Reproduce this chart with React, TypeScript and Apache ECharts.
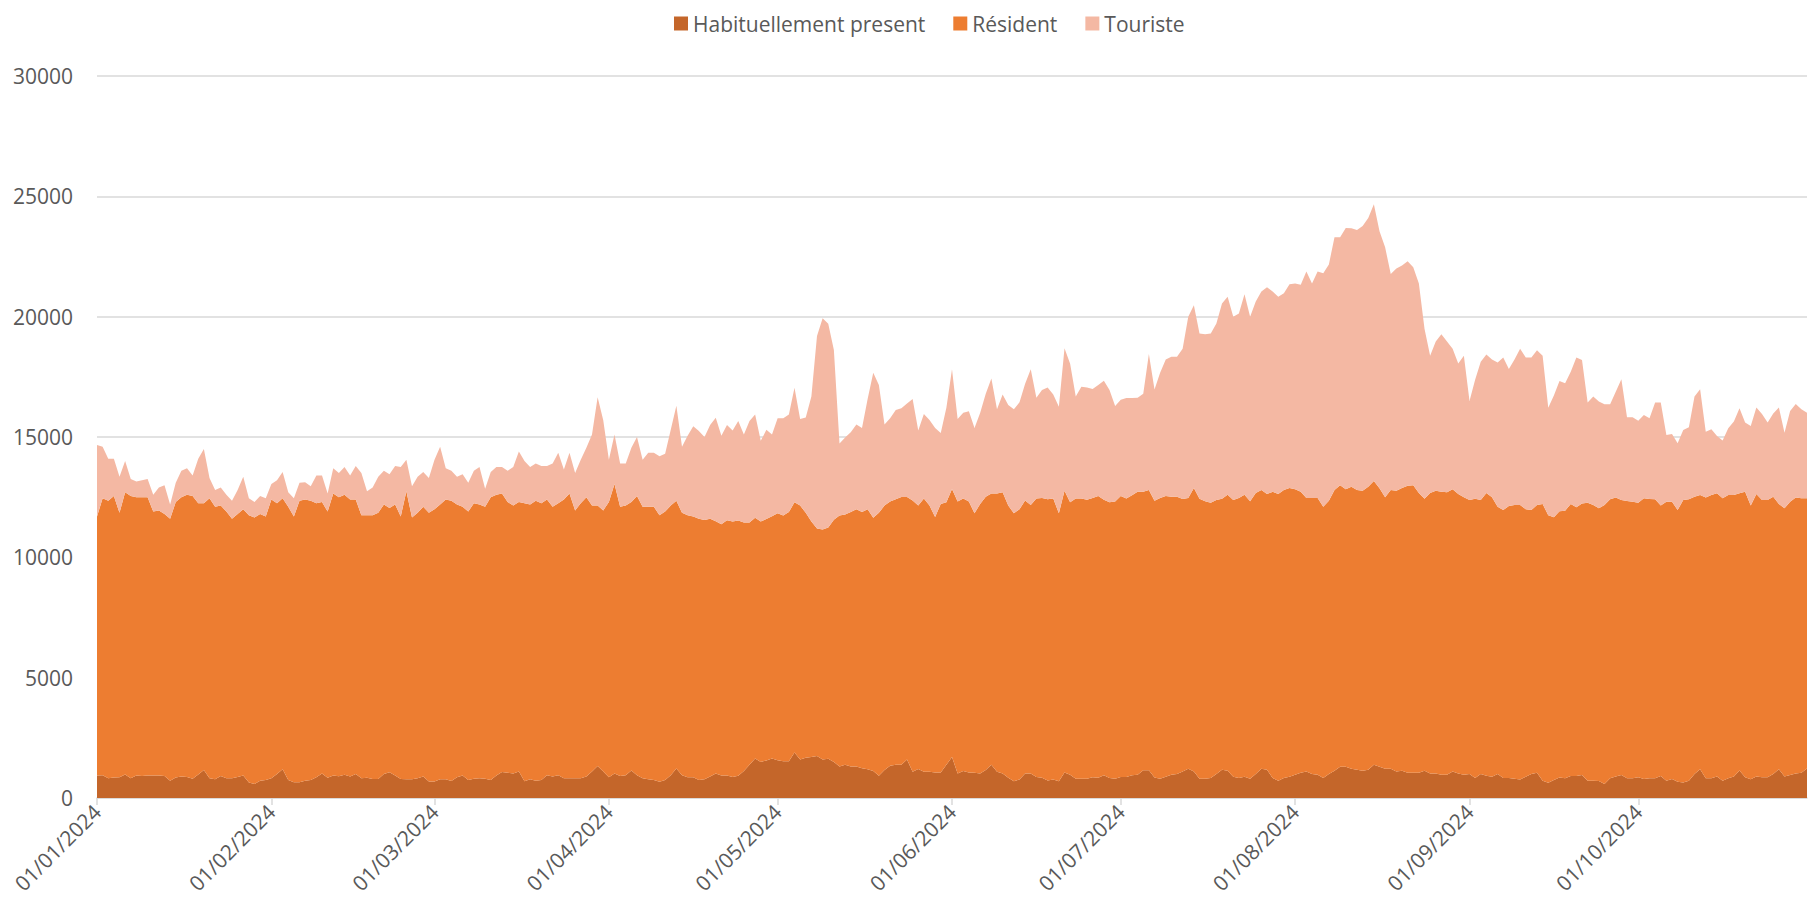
import React, { useEffect, useRef } from "react";
import * as echarts from "echarts";

const START = Date.UTC(2024, 0, 1);
const DAY_COUNT = 305;
const categories: string[] = [];
for (let i = 0; i < DAY_COUNT; i++) {
  const d = new Date(START + i * 86400000);
  const dd = String(d.getUTCDate()).padStart(2, "0");
  const mm = String(d.getUTCMonth() + 1).padStart(2, "0");
  categories.push(`${dd}/${mm}/${d.getUTCFullYear()}`);
}

const seriesNames = ["Habituellement present", "Résident", "Touriste"];
const yTicks = [0, 5000, 10000, 15000, 20000, 25000, 30000];

const habituellement = [
  930, 950, 820, 850, 860, 980, 820, 940, 910, 940,
  930, 940, 910, 720, 850, 890, 870, 800, 980, 1160,
  820, 780, 910, 820, 820, 870, 940, 640, 580, 720,
  750, 820, 1000, 1190, 750, 650, 650, 720, 750, 860,
  1020, 840, 930, 900, 970, 890, 1000, 820, 840, 790,
  790, 1000, 1070, 940, 790, 780, 780, 820, 890, 690,
  690, 780, 780, 710, 860, 940, 750, 800, 820, 800,
  750, 940, 1080, 1050, 1020, 1100, 700, 780, 720, 750,
  950, 890, 950, 820, 820, 820, 820, 890, 1100, 1330,
  1100, 860, 1020, 910, 950, 1140, 950, 820, 780, 750,
  680, 750, 950, 1230, 950, 860, 860, 750, 780, 890,
  1020, 930, 940, 870, 920, 1120, 1380, 1640, 1500, 1560,
  1640, 1570, 1530, 1530, 1890, 1600, 1670, 1700, 1750, 1600,
  1630, 1500, 1310, 1380, 1310, 1310, 1240, 1190, 1120, 920,
  1160, 1340, 1380, 1380, 1600, 1090, 1210, 1090, 1090, 1060,
  1060, 1380, 1700, 1020, 1120, 1060, 1050, 1020, 1160, 1380,
  1090, 1020, 840, 700, 770, 1020, 1020, 870, 840, 730,
  770, 700, 1060, 970, 800, 800, 800, 860, 840, 950,
  830, 800, 870, 870, 950, 970, 1150, 1150, 850, 800,
  880, 970, 1000, 1100, 1220, 1100, 800, 800, 830, 1000,
  1170, 1130, 880, 830, 880, 800, 1000, 1220, 1170, 830,
  720, 830, 880, 970, 1050, 1100, 1000, 970, 830, 1000,
  1130, 1300, 1300, 1220, 1170, 1130, 1170, 1380, 1300, 1220,
  1220, 1100, 1130, 1050, 1050, 1050, 1130, 1020, 1020, 970,
  970, 1100, 1020, 970, 1000, 830, 1000, 920, 880, 1000,
  830, 830, 800, 770, 880, 1000, 1050, 720, 630, 750,
  850, 820, 910, 910, 960, 720, 720, 710, 580, 820,
  890, 960, 820, 820, 860, 790, 820, 820, 910, 720,
  790, 680, 640, 720, 1000, 1190, 820, 820, 890, 720,
  820, 890, 1140, 860, 780, 890, 860, 860, 1000, 1190,
  890, 960, 1020, 1050, 1230,
];

const resident = [
  10770, 11500, 11530, 11700, 10990, 11720, 11730, 11560, 11590, 11560,
  10970, 11010, 10890, 10880, 11450, 11610, 11730, 11750, 11270, 11090,
  11630, 11320, 11240, 11080, 10780, 10930, 11060, 11110, 11070, 11080,
  10950, 11580, 11250, 11260, 11350, 11050, 11700, 11680, 11600, 11390,
  11280, 11060, 11720, 11600, 11630, 11510, 11400, 10930, 10910, 10960,
  11060, 11200, 10980, 11260, 10910, 11970, 10870, 11030, 11210, 11160,
  11310, 11420, 11620, 11640, 11340, 11160, 11150, 11450, 11380, 11300,
  11750, 11660, 11570, 11250, 11130, 11200, 11550, 11420, 11630, 11500,
  11450, 11210, 11300, 11580, 11830, 11130, 11430, 11610, 11050, 10820,
  10850, 11440, 12030, 11190, 11200, 11160, 11600, 11280, 11320, 11350,
  11070, 11150, 11200, 11120, 10900, 10890, 10840, 10850, 10770, 10710,
  10480, 10440, 10600, 10620, 10610, 10330, 10070, 10000, 9990, 10030,
  10070, 10260, 10210, 10350, 10400, 10550, 10180, 9790, 9450, 9560,
  9610, 10060, 10430, 10400, 10570, 10690, 10640, 10810, 10520, 10930,
  10990, 10980, 11030, 11130, 10910, 11270, 10940, 11350, 11060, 10620,
  11160, 10910, 11140, 11300, 11320, 11260, 10780, 11200, 11360, 11270,
  11560, 11680, 11310, 11130, 11230, 11340, 11150, 11570, 11630, 11680,
  11670, 11130, 11710, 11320, 11640, 11640, 11590, 11610, 11710, 11440,
  11460, 11520, 11680, 11570, 11630, 11760, 11580, 11650, 11500, 11670,
  11670, 11550, 11520, 11320, 11250, 11780, 11630, 11530, 11440, 11380,
  11260, 11470, 11500, 11640, 11720, 11530, 11670, 11580, 11460, 11890,
  11910, 11970, 12000, 11860, 11670, 11370, 11470, 11500, 11270, 11350,
  11670, 11700, 11530, 11710, 11630, 11640, 11760, 11790, 11570, 11280,
  11580, 11670, 11750, 11920, 11950, 11620, 11300, 11650, 11750, 11760,
  11730, 11730, 11610, 11530, 11380, 11600, 11380, 11750, 11620, 11100,
  11140, 11300, 11370, 11400, 11120, 10970, 11120, 11500, 11120, 10920,
  11070, 11120, 11310, 11170, 11280, 11550, 11450, 11330, 11590, 11590,
  11600, 11420, 11520, 11490, 11410, 11660, 11600, 11590, 11240, 11590,
  11520, 11290, 11740, 11690, 11520, 11400, 11670, 11770, 11770, 11730,
  11770, 11700, 11520, 11870, 11370, 11740, 11520, 11520, 11520, 11030,
  11150, 11350, 11470, 11400, 11220,
];

const touriste = [
  2970, 2150, 1750, 1550, 1500, 1300, 700, 650, 700, 750,
  700, 950, 1200, 600, 800, 1100, 1100, 850, 1850, 2250,
  850, 700, 750, 700, 750, 1000, 1350, 700, 650, 750,
  750, 650, 950, 1100, 600, 750, 750, 720, 600, 1150,
  1100, 750, 1050, 1000, 1150, 1000, 1400, 1750, 1000, 1150,
  1500, 1400, 1400, 1600, 2050, 1300, 1300, 1500, 1450, 1450,
  2050, 2400, 1300, 1250, 1150, 1350, 1200, 1350, 1550, 750,
  1050, 1150, 1100, 1300, 1600, 2100, 1750, 1550, 1550, 1550,
  1400, 1800, 2100, 1250, 1700, 1550, 1800, 2050, 2950, 4500,
  3750, 1750, 2050, 1800, 1750, 2250, 2450, 1950, 2250, 2250,
  2450, 2400, 3150, 3950, 2750, 3300, 3750, 3650, 3450, 3900,
  4300, 3680, 3960, 3780, 4140, 3650, 4220, 4290, 3350, 3710,
  3390, 3950, 4040, 4050, 4760, 3600, 3960, 5190, 8000, 8770,
  8470, 7060, 2990, 3200, 3320, 3520, 3490, 4580, 6030, 5310,
  3370, 3460, 3710, 3680, 3880, 4220, 3120, 3520, 3560, 3690,
  2950, 3930, 4980, 3430, 3570, 3750, 3540, 3780, 4280, 4780,
  3500, 4070, 4180, 4320, 4440, 4850, 5650, 4190, 4480, 4650,
  4330, 4430, 5920, 5750, 4240, 4650, 4670, 4520, 4610, 4950,
  4660, 3970, 4000, 4180, 4040, 3900, 4070, 5650, 4620, 5200,
  5670, 5810, 5810, 6250, 7530, 7590, 6870, 6940, 7030, 7340,
  8120, 8230, 7620, 7660, 8330, 7670, 7960, 8250, 8590, 8330,
  8200, 8170, 8470, 8550, 8610, 9410, 8910, 9410, 9700, 9820,
  10500, 10300, 10850, 10740, 10800, 11000, 11170, 11500, 10680, 10380,
  8970, 9230, 9250, 9330, 9050, 8710, 7070, 5710, 6200, 6540,
  6270, 5840, 5420, 5880, 4120, 4950, 5750, 5760, 5720, 6000,
  6330, 5700, 6050, 6500, 6300, 6330, 6430, 6160, 4470, 5050,
  5410, 5290, 5490, 6220, 5960, 4160, 4510, 4430, 4190, 3950,
  4390, 5020, 3480, 3510, 3410, 3460, 3360, 4020, 4280, 2770,
  2810, 2770, 2910, 2990, 4160, 4390, 2730, 2730, 2380, 2400,
  2770, 3050, 3530, 2870, 3310, 3600, 3580, 3220, 3460, 4010,
  3140, 3770, 3880, 3700, 3560,
];

const colors = ["#C4662A", "#ED7D31", "#F4B8A3"];
const FONT = "'Open Sans', 'Noto Sans', sans-serif";
const TEXT = "#595959";

export default function App() {
  const ref = useRef<HTMLDivElement>(null);
  useEffect(() => {
    if (!ref.current) return;
    const chart = echarts.init(ref.current, undefined, { renderer: "svg" });
    const isMonthStart = (_i: number, v: string) => v.slice(0, 2) === "01";
    const values = [habituellement, resident, touriste];
    chart.setOption({
      animation: false,
      color: colors,
      legend: {
        top: 8,
        left: 669,
        icon: "rect",
        itemWidth: 14,
        itemHeight: 14,
        itemGap: 28,
        data: seriesNames,
        textStyle: { color: TEXT, fontSize: 21, fontFamily: FONT },
      },
      grid: { left: 97, right: 2, top: 76, bottom: 125, containLabel: false },
      xAxis: {
        type: "category",
        data: categories,
        boundaryGap: false,
        axisLine: { show: true, lineStyle: { color: "#D9D9D9", width: 1.5 } },
        axisTick: { show: true, interval: isMonthStart, length: 7, lineStyle: { color: "#D9D9D9", width: 1.5 } },
        axisLabel: {
          interval: isMonthStart,
          rotate: 45,
          margin: 10,
          color: TEXT,
          fontSize: 21,
          fontFamily: FONT,
        },
        splitLine: { show: false },
      },
      yAxis: {
        type: "value",
        min: yTicks[0],
        max: yTicks[yTicks.length - 1],
        interval: 5000,
        axisLine: { show: false },
        axisTick: { show: false },
        axisLabel: {
          color: TEXT,
          fontSize: 21,
          fontFamily: FONT,
          margin: 24,
          formatter: (v: number) => String(v),
        },
        splitLine: { lineStyle: { color: "#D9D9D9", width: 1.5 } },
      },
      series: seriesNames.map((name, k) => ({
        name,
        type: "line",
        stack: "total",
        data: values[k],
        symbol: "none",
        showSymbol: false,
        lineStyle: { width: 0 },
        areaStyle: { color: colors[k], opacity: 1 },
        itemStyle: { color: colors[k] },
        emphasis: { disabled: true },
        z: 2,
      })),
    });
    return () => chart.dispose();
  }, []);
  return (
    <div
      ref={ref}
      style={{ position: "fixed", left: 0, top: 0, width: "1809px", height: "923px", background: "#fff" }}
    />
  );
}
